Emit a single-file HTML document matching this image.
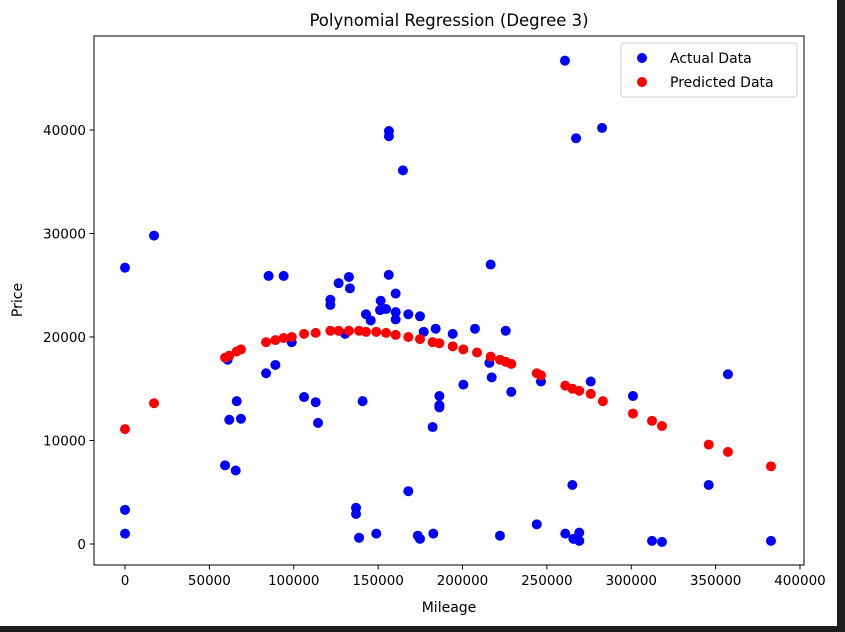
<!DOCTYPE html>
<html><head><meta charset="utf-8"><style>
html,body{margin:0;padding:0;background:#fff;}
svg{display:block;font-family:"DejaVu Sans","Liberation Sans",sans-serif;}
</style></head><body>
<svg id="chart" width="845" height="632" viewBox="0 0 845 632" xmlns="http://www.w3.org/2000/svg">
<rect x="0" y="0" width="845" height="632" fill="#fff"/>
<rect x="837" y="0" width="8" height="632" fill="#1e1e1e"/>
<rect x="0" y="626" width="845" height="6" fill="#1e1e1e"/>
<text x="449" y="26" text-anchor="middle" font-size="16.5" fill="#000">Polynomial Regression (Degree 3)</text>
<g id="xticks"></g>
<g id="yticks"></g>
<g id="actual"></g>
<g id="pred"></g>
<rect x="94" y="36" width="710" height="529" fill="none" stroke="#000" stroke-width="1"/>
<text x="449" y="612" text-anchor="middle" font-size="14" fill="#000">Mileage</text>
<text x="22" y="300" text-anchor="middle" font-size="14" fill="#000" transform="rotate(-90 22 300)">Price</text>
<g>
<rect x="621" y="43" width="176" height="54" rx="3" fill="#fff" stroke="#ccc"/>
<circle cx="642" cy="58" r="5" fill="#0000ff"/>
<text x="670" y="63" font-size="14" fill="#000">Actual Data</text>
<circle cx="642" cy="82" r="5" fill="#ff0000"/>
<text x="670" y="87" font-size="14" fill="#000">Predicted Data</text>
</g>
</svg>
<script>
const xTicks=[0,50000,100000,150000,200000,250000,300000,350000,400000];
const yTicks=[0,10000,20000,30000,40000];
const actualX=[17200,0,85100,94000,126600,132700,133300,156300,160400,121700,121700,151500,151100,154700,142800,145600,160400,160400,167900,174800,177000,184100,194200,207400,130400,98800,60800,83600,89100,200500,66200,106100,113000,140800,186300,186300,186300,61800,68700,114400,182300,59300,65600,167900,0,0,136900,136900,138700,148900,173500,174800,182700,260700,156400,156400,164700,267300,282700,216700,225600,215900,217300,228900,246500,276000,301000,357300,265100,345900,244000,222200,260900,265700,269200,269200,312300,318200,382800];
const actualY=[29800,26700,25900,25900,25200,25800,24700,26000,24200,23600,23100,23500,22600,22700,22200,21600,22400,21700,22200,22000,20500,20800,20300,20800,20300,19500,17800,16500,17300,15400,13800,14200,13700,13800,14300,13400,13200,12000,12100,11700,11300,7600,7100,5100,3300,1000,3500,2900,600,1000,800,500,1000,46700,39900,39400,36100,39200,40200,27000,20600,17500,16100,14700,15700,15700,14300,16400,5700,5700,1900,800,1000,500,1100,300,300,200,300];
const predX=[0,17200,59300,61800,66200,68700,83600,89100,94000,98800,106100,113000,121700,126600,132700,138700,142800,148900,154700,160400,167900,174800,182300,186300,194200,200500,208600,216700,222200,225600,228900,244000,246500,260900,265100,269200,276000,283200,301000,312300,318200,345900,357300,382800];
const predY=[11100,13600,18000,18200,18600,18800,19500,19700,19900,20000,20300,20400,20600,20600,20600,20600,20500,20500,20400,20200,20000,19800,19500,19400,19100,18800,18500,18100,17800,17600,17400,16500,16300,15300,15000,14800,14500,13800,12600,11900,11400,9600,8900,7500];
const NS='http://www.w3.org/2000/svg';
function sx(v){return 125+v/400000*675;}
function sy(v){return 544-v/40000*414;}
function mk(tag,attrs,parent){const e=document.createElementNS(NS,tag);for(const k in attrs)e.setAttribute(k,attrs[k]);parent.appendChild(e);return e;}
const gx=document.getElementById('xticks');
xTicks.forEach(t=>{
  const l=mk('line',{x1:sx(t),x2:sx(t),y1:565,y2:569.5,stroke:'#000'},gx);
  
  
  const tx=mk('text',{x:sx(t),y:585,'text-anchor':'middle','font-size':'13.5',fill:'#000'},gx);
  tx.textContent=String(t);
  
  
});
const gy=document.getElementById('yticks');
yTicks.forEach(t=>{
  const l=mk('line',{x1:89.5,x2:94,y1:sy(t),y2:sy(t),stroke:'#000'},gy);
  
  
  const tx=mk('text',{x:86,y:sy(t)+5,'text-anchor':'end','font-size':'13.5',fill:'#000'},gy);
  tx.textContent=String(t);
  
  
});
const ga=document.getElementById('actual');
actualX.forEach((x,i)=>{
  const c=mk('circle',{cx:sx(x),cy:sy(actualY[i]),r:5,fill:'#0000ff'},ga);
  
  
});
const gp=document.getElementById('pred');
predX.forEach((x,i)=>{
  const c=mk('circle',{cx:sx(x),cy:sy(predY[i]),r:5,fill:'#ff0000'},gp);
  
  
});
</script>
</body></html>
